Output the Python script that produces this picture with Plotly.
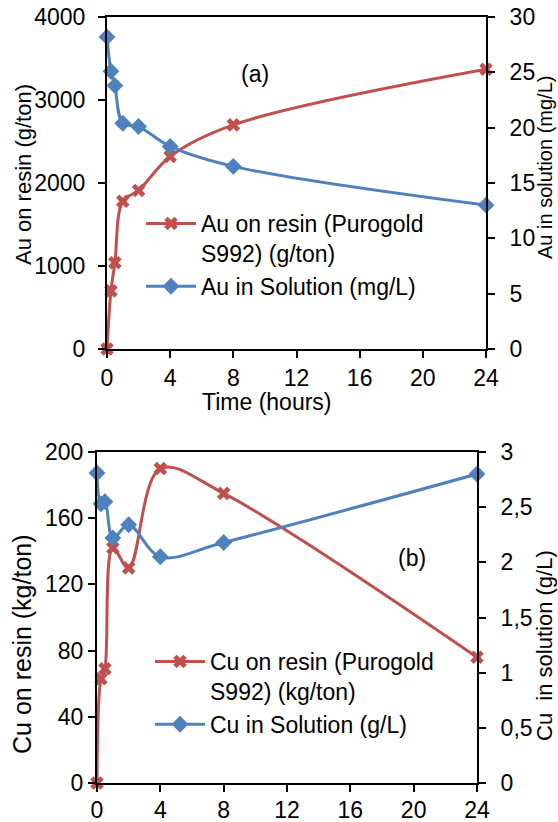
import plotly.graph_objects as go

# ---- data ----
time_h = [0, 0.25, 0.5, 1, 2, 4, 8, 24]
au_resin = [0, 700, 1040, 1780, 1910, 2320, 2700, 3370]       # g/ton
au_solution = [28.2, 25.1, 23.8, 20.4, 20.1, 18.3, 16.5, 13.0]  # mg/L
cu_resin = [0, 63, 69, 142, 130, 190, 175, 76]                 # kg/ton
cu_solution = [2.81, 2.53, 2.55, 2.22, 2.34, 2.05, 2.18, 2.80]  # g/L

x_ticks = [0, 4, 8, 12, 16, 20, 24]
au_resin_ticks = [0, 1000, 2000, 3000, 4000]
au_sol_ticks = [0, 5, 10, 15, 20, 25, 30]
cu_resin_ticks = [0, 40, 80, 120, 160, 200]
cu_sol_ticks = [0, 0.5, 1, 1.5, 2, 2.5, 3]
cu_sol_ticktext = ["0", "0,5", "1", "1,5", "2", "2,5", "3"]

W, H = 558, 822
RED = "#C0504D"
BLUE = "#4F81BD"
FONT = "Arial, Liberation Sans, sans-serif"
FS = 23


def px(x):
    return x / W


def py(y):
    return 1 - y / H


fig = go.Figure()

red_marker = dict(symbol="x", size=12, color=RED, line=dict(width=0))
blue_marker = dict(symbol="diamond", size=13, color=BLUE)

fig.add_trace(go.Scatter(x=time_h, y=au_resin, xaxis="x", yaxis="y",
                         name="Au on resin (Purogold<br>S992) (g/ton)",
                         mode="lines+markers", line=dict(color=RED, width=3, shape="spline"),
                         marker=red_marker, cliponaxis=False, legend="legend"))
fig.add_trace(go.Scatter(x=time_h, y=au_solution, xaxis="x", yaxis="y2",
                         name="Au in Solution (mg/L)",
                         mode="lines+markers", line=dict(color=BLUE, width=3, shape="spline"),
                         marker=blue_marker, cliponaxis=False, legend="legend"))
fig.add_trace(go.Scatter(x=time_h, y=cu_resin, xaxis="x2", yaxis="y3",
                         name="Cu on resin (Purogold<br>S992) (kg/ton)",
                         mode="lines+markers", line=dict(color=RED, width=3, shape="spline"),
                         marker=red_marker, cliponaxis=False, legend="legend2"))
fig.add_trace(go.Scatter(x=time_h, y=cu_solution, xaxis="x2", yaxis="y4",
                         name="Cu in Solution (g/L)",
                         mode="lines+markers", line=dict(color=BLUE, width=3, shape="spline"),
                         marker=blue_marker, cliponaxis=False, legend="legend2"))

axis_common = dict(showgrid=False, zeroline=False, showline=True, linecolor="black",
                   linewidth=2, ticks="outside", ticklen=7, tickwidth=1.5, tickcolor="black",
                   automargin=False,
                   tickfont=dict(family=FONT, size=FS, color="black"))

fig.update_layout(
    template="none",
    width=W, height=H,
    margin=dict(l=0, r=0, t=0, b=0, autoexpand=False),
    paper_bgcolor="white", plot_bgcolor="white",
    font=dict(family=FONT, size=FS, color="black"),
    xaxis=dict(domain=[px(107), px(486)], anchor="y", range=[0, 24],
               tickvals=x_ticks, mirror=True, **axis_common),
    yaxis=dict(domain=[py(349), py(17)], anchor="x", range=[0, 4000],
               tickvals=au_resin_ticks, ticklabelstandoff=8, **axis_common),
    yaxis2=dict(overlaying="y", side="right", anchor="x", range=[0, 30],
                tickvals=au_sol_ticks, ticklabelstandoff=10, **axis_common),
    xaxis2=dict(domain=[px(97), px(477)], anchor="y3", range=[0, 24],
                tickvals=x_ticks, mirror=True, ticklabelstandoff=-2, **axis_common),
    yaxis3=dict(domain=[py(783), py(452)], anchor="x2", range=[0, 200],
                tickvals=cu_resin_ticks, **axis_common),
    yaxis4=dict(overlaying="y3", side="right", anchor="x2", range=[0, 3],
                tickvals=cu_sol_ticks, ticktext=cu_sol_ticktext, ticklabelstandoff=10,
                **axis_common),
    legend=dict(x=px(141), y=py(202), xanchor="left", yanchor="top",
                bgcolor="rgba(0,0,0,0)", font=dict(family=FONT, size=FS),
                itemwidth=50, valign="top"),
    legend2=dict(x=px(150), y=py(640), xanchor="left", yanchor="top",
                 bgcolor="rgba(0,0,0,0)", font=dict(family=FONT, size=FS),
                 itemwidth=50, valign="top"),
    showlegend=True,
)

annos = [
    dict(text="(a)", x=px(255), y=py(74), size=23),
    dict(text="(b)", x=px(412), y=py(558), size=23),
    dict(text="Time (hours)", x=px(267), y=py(402), size=23),
    dict(text="Au on resin (g/ton)", x=px(23), y=py(175), size=22, angle=-90),
    dict(text="Au in solution (mg/L)", x=px(545), y=py(168), size=20, angle=-90),
    dict(text="Cu on resin (kg/ton)", x=px(22), y=py(644), size=25, angle=-90),
    dict(text="Cu\u00a0 in solution (g/L)", x=px(544), y=py(646), size=22, angle=-90),
]
for a in annos:
    fig.add_annotation(xref="paper", yref="paper", showarrow=False,
                       xanchor="center", yanchor="middle",
                       text=a["text"], x=a["x"], y=a["y"],
                       textangle=a.get("angle", 0),
                       font=dict(family=FONT, size=a["size"], color="black"))

fig.write_html("out.html")
